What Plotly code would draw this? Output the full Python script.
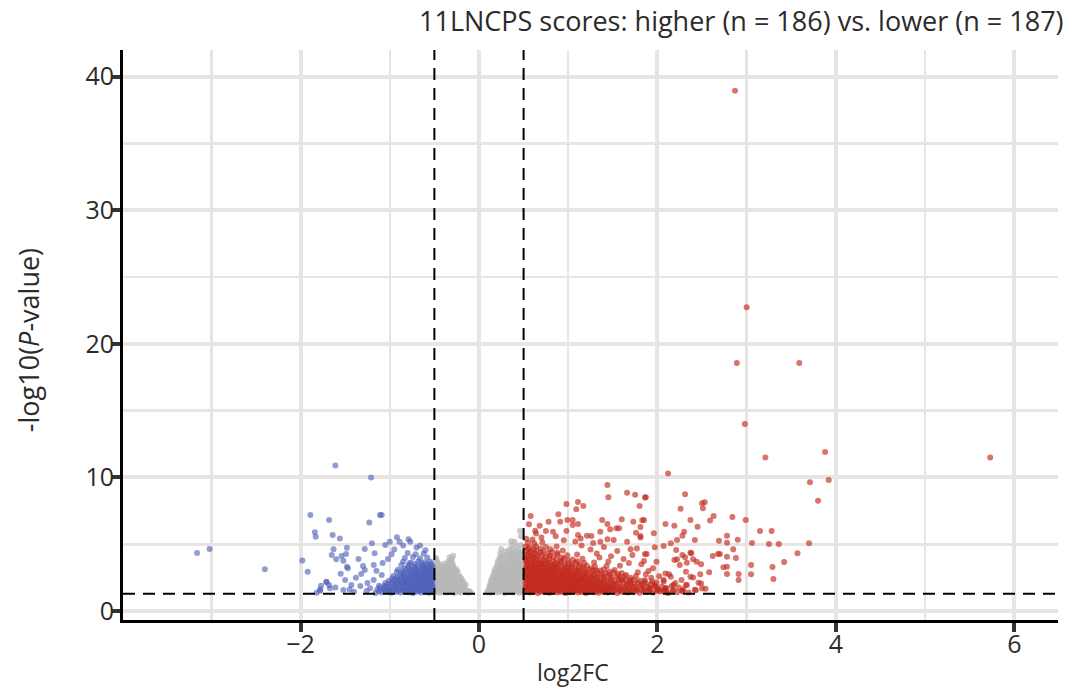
import plotly.graph_objects as go

# ---------------- data (log2FC, -log10 P) ----------------
title_text = "11LNCPS scores: higher (n = 186) vs. lower (n = 187)"
x_ticks = [-2, 0, 2, 4, 6]
x_tick_text = ["\u22122", "0", "2", "4", "6"]
y_ticks = [0, 10, 20, 30, 40]
fc_cut = [-0.5, 0.5]
p_cut = 1.3

red_sparse = [
    (2.87, 38.95), (3.00, 22.75), (2.89, 18.57), (3.59, 18.57), (2.98, 14.0), (3.21, 11.5), (5.73, 11.5),
    (3.88, 11.9), (2.12, 10.3), (3.71, 9.64), (3.92, 9.81), (3.80, 8.26), (3.70, 5.07),
    (2.31, 8.74), (2.50, 8.07), (2.53, 8.14), (2.51, 7.70), (2.26, 7.66), (2.63, 7.12), (2.59, 6.77),
    (2.37, 6.82), (2.84, 7.04), (2.99, 6.82), (2.09, 6.52), (2.19, 6.39), (2.45, 6.32), (1.96, 5.82),
    (2.30, 5.94), (2.28, 5.64), (2.22, 5.32), (2.15, 5.07), (2.07, 4.87), (2.42, 5.32), (2.69, 5.27),
    (2.78, 5.64), (2.78, 5.12), (2.90, 5.34), (3.06, 5.09), (3.15, 5.99), (3.28, 5.99), (3.25, 5.02),
    (3.36, 5.02), (3.57, 4.32), (2.85, 4.62), (2.68, 4.27), (2.70, 4.27), (2.62, 4.12), (2.78, 4.07),
    (2.88, 3.97), (2.37, 4.37), (2.38, 4.32), (2.21, 4.57), (2.28, 4.19), (2.31, 4.02), (2.19, 3.82),
    (2.22, 3.87), (2.25, 3.45), (2.33, 3.62), (2.40, 3.87), (2.44, 3.69), (2.49, 3.50), (2.74, 3.27),
    (2.78, 3.32), (2.78, 2.77), (2.91, 2.77), (2.91, 2.32), (3.05, 3.45), (3.05, 2.75), (3.29, 3.30),
    (3.30, 2.40), (3.42, 3.67), (2.58, 2.90), (2.48, 2.75), (2.49, 2.07), (2.54, 1.67), (2.37, 2.57),
    (2.40, 2.52), (2.32, 2.94), (2.33, 1.95), (2.27, 2.32), (2.18, 1.95), (2.15, 2.57), (2.09, 2.82),
    (2.07, 2.32), (1.99, 3.69), (1.95, 3.20), (1.97, 1.95), (2.01, 1.57), (2.09, 1.70), (2.50, 1.68),
    (2.43, 1.55), (2.28, 1.52), (2.46, 2.11), (2.32, 1.95), (2.13, 2.75), (2.07, 2.22),
    (1.86, 8.50), (1.83, 6.80), (1.81, 6.30), (1.81, 5.50), (1.86, 4.28), (1.85, 3.74), (1.87, 2.75),
    (1.94, 2.22), (1.44, 9.44), (1.45, 8.51), (1.66, 8.86), (1.75, 8.71), (1.87, 8.51), (1.80, 7.87),
    (0.98, 8.01), (1.11, 8.16), (1.09, 7.62), (1.17, 7.87), (0.58, 7.12), (0.89, 7.24), (0.78, 6.69),
    (0.68, 6.39), (0.63, 6.02), (0.83, 5.94), (0.91, 6.69), (0.99, 6.82), (1.05, 6.82), (1.05, 6.44),
    (1.11, 6.52), (0.98, 5.99), (1.11, 5.69), (1.14, 5.44), (1.21, 5.64), (1.38, 6.82), (1.44, 6.52),
    (1.36, 5.94), (1.47, 6.12), (1.54, 6.19), (1.57, 6.19), (1.60, 6.87), (1.73, 6.69), (1.85, 6.82),
    (1.76, 5.87), (1.81, 5.62), (1.26, 5.62), (1.36, 5.19), (1.44, 5.37), (1.51, 5.32), (1.66, 5.19),
    (1.70, 4.62), (1.77, 4.69), (1.88, 4.27), (1.97, 4.77),
    (1.25, 4.60), (1.32, 4.30), (1.40, 4.80), (1.48, 4.10), (1.55, 4.50), (1.62, 3.90), (1.58, 3.40),
    (1.68, 3.60), (1.72, 4.20), (1.82, 3.50), (1.90, 3.00), (1.78, 2.90), (1.65, 2.70), (1.93, 2.50),
    (2.02, 2.60), (1.85, 2.20), (1.70, 2.30), (2.10, 1.45), (2.20, 2.10), (1.15, 4.90), (1.08, 5.20),
    (0.95, 5.30), (0.86, 5.60), (0.70, 5.50), (0.64, 5.80), (0.75, 6.00), (0.56, 6.50), (1.28, 5.10),
    (1.35, 4.00), (1.45, 3.70),
]

red_core = [
    (0.52, 1.42), (0.57, 1.38), (0.61, 1.45), (0.66, 1.36), (0.70, 1.44), (0.75, 1.40), (0.79, 1.37),
    (0.84, 1.46), (0.88, 1.39), (0.93, 1.43), (0.97, 1.36), (1.02, 1.41), (1.06, 1.47), (1.11, 1.38),
    (1.15, 1.43), (1.20, 1.36), (1.25, 1.45), (1.30, 1.40), (1.34, 1.37), (1.39, 1.44), (1.44, 1.39),
    (1.49, 1.46), (1.55, 1.36), (1.61, 1.42), (1.67, 1.38), (1.74, 1.45), (1.80, 1.37), (1.88, 1.43),
    (1.95, 1.39), (2.03, 1.46), (2.12, 1.36), (2.22, 1.41), (2.35, 1.38),
    (0.545, 1.51), (0.59, 1.49), (0.635, 1.53), (0.68, 1.48), (0.725, 1.52), (0.77, 1.50), (0.815, 1.47),
    (0.86, 1.53), (0.905, 1.49), (0.95, 1.52), (0.995, 1.48), (1.04, 1.51), (1.085, 1.54), (1.13, 1.49),
    (1.175, 1.52), (1.225, 1.47), (1.275, 1.53), (1.32, 1.50), (1.365, 1.48), (1.415, 1.52), (1.465, 1.49),
    (1.52, 1.53), (1.58, 1.48), (1.64, 1.51), (1.70, 1.49), (1.77, 1.53), (1.84, 1.48), (1.91, 1.52),
    (1.99, 1.50), (2.07, 1.47), (2.17, 1.52), (2.28, 1.49),
    (0.54, 1.63), (0.59, 1.58), (0.63, 1.66), (0.68, 1.61), (0.72, 1.56), (0.77, 1.65), (0.81, 1.60),
    (0.86, 1.57), (0.90, 1.67), (0.95, 1.62), (0.99, 1.59), (1.04, 1.64), (1.08, 1.57), (1.13, 1.66),
    (1.18, 1.61), (1.22, 1.58), (1.27, 1.65), (1.32, 1.60), (1.37, 1.63), (1.42, 1.57), (1.47, 1.66),
    (1.53, 1.61), (1.58, 1.59), (1.64, 1.65), (1.71, 1.58), (1.77, 1.63), (1.85, 1.60), (1.92, 1.66),
    (2.01, 1.59), (2.08, 1.62), (2.18, 1.57), (2.29, 1.64), (2.42, 1.60),
    (0.52, 1.76), (0.565, 1.72), (0.61, 1.78), (0.655, 1.73), (0.70, 1.77), (0.745, 1.71), (0.79, 1.75),
    (0.835, 1.78), (0.88, 1.72), (0.925, 1.76), (0.97, 1.73), (1.015, 1.77), (1.06, 1.71), (1.105, 1.75),
    (1.15, 1.78), (1.195, 1.72), (1.245, 1.76), (1.295, 1.73), (1.345, 1.77), (1.395, 1.71), (1.445, 1.75),
    (1.50, 1.78), (1.56, 1.72), (1.62, 1.76), (1.69, 1.73), (1.76, 1.77), (1.83, 1.72), (1.91, 1.75),
    (1.99, 1.78), (2.10, 1.73), (2.24, 1.76),
    (0.53, 1.86), (0.58, 1.82), (0.62, 1.90), (0.67, 1.84), (0.71, 1.79), (0.76, 1.88), (0.80, 1.83),
    (0.85, 1.91), (0.89, 1.80), (0.94, 1.87), (0.98, 1.84), (1.03, 1.81), (1.07, 1.89), (1.12, 1.85),
    (1.17, 1.79), (1.21, 1.88), (1.26, 1.83), (1.31, 1.90), (1.36, 1.81), (1.41, 1.86), (1.46, 1.84),
    (1.52, 1.89), (1.59, 1.80), (1.66, 1.87), (1.72, 1.83), (1.81, 1.90), (1.89, 1.81), (1.97, 1.86),
    (2.05, 1.83), (2.16, 1.88),
    (0.545, 2.01), (0.59, 1.97), (0.635, 2.03), (0.68, 1.98), (0.725, 2.02), (0.77, 1.96), (0.815, 2.00),
    (0.86, 2.03), (0.905, 1.97), (0.95, 2.01), (0.995, 1.98), (1.04, 2.02), (1.085, 1.96), (1.13, 2.00),
    (1.18, 2.03), (1.225, 1.97), (1.27, 2.01), (1.32, 1.98), (1.375, 2.02), (1.43, 1.96), (1.50, 2.00),
    (1.57, 2.03), (1.66, 1.97), (1.74, 2.01), (1.83, 1.98), (1.93, 2.02),
    (0.52, 2.12), (0.56, 2.07), (0.61, 2.15), (0.65, 2.09), (0.70, 2.04), (0.74, 2.13), (0.79, 2.08),
    (0.83, 2.16), (0.88, 2.05), (0.92, 2.11), (0.97, 2.14), (1.01, 2.06), (1.06, 2.12), (1.10, 2.09),
    (1.15, 2.15), (1.20, 2.04), (1.24, 2.11), (1.29, 2.08), (1.35, 2.14), (1.40, 2.06), (1.47, 2.12),
    (1.54, 2.09), (1.62, 2.15), (1.70, 2.05), (1.78, 2.11), (1.87, 2.08), (1.99, 2.13),
    (0.53, 2.26), (0.575, 2.22), (0.62, 2.28), (0.665, 2.23), (0.71, 2.27), (0.755, 2.21), (0.80, 2.25),
    (0.845, 2.28), (0.89, 2.22), (0.935, 2.26), (0.98, 2.23), (1.025, 2.27), (1.07, 2.21), (1.115, 2.25),
    (1.16, 2.28), (1.21, 2.22), (1.26, 2.26), (1.31, 2.23), (1.37, 2.27), (1.44, 2.21), (1.52, 2.25),
    (1.60, 2.28), (1.69, 2.22), (1.80, 2.26),
    (0.54, 2.37), (0.58, 2.31), (0.63, 2.39), (0.67, 2.34), (0.72, 2.30), (0.76, 2.38), (0.81, 2.33),
    (0.85, 2.40), (0.90, 2.29), (0.94, 2.36), (0.99, 2.32), (1.03, 2.39), (1.08, 2.34), (1.13, 2.30),
    (1.18, 2.37), (1.23, 2.33), (1.28, 2.40), (1.34, 2.31), (1.41, 2.36), (1.48, 2.33), (1.57, 2.38),
    (1.65, 2.30), (1.74, 2.35), (1.86, 2.32),
    (0.545, 2.51), (0.59, 2.47), (0.635, 2.53), (0.68, 2.48), (0.725, 2.52), (0.77, 2.46), (0.815, 2.50),
    (0.86, 2.53), (0.905, 2.47), (0.95, 2.51), (0.995, 2.48), (1.045, 2.52), (1.095, 2.46), (1.145, 2.50),
    (1.20, 2.53), (1.26, 2.47), (1.33, 2.51), (1.40, 2.48), (1.49, 2.52), (1.59, 2.46), (1.70, 2.50),
    (0.52, 2.62), (0.57, 2.57), (0.61, 2.65), (0.66, 2.59), (0.70, 2.55), (0.75, 2.64), (0.79, 2.58),
    (0.84, 2.66), (0.89, 2.56), (0.93, 2.61), (0.98, 2.63), (1.03, 2.57), (1.08, 2.65), (1.14, 2.59),
    (1.19, 2.55), (1.25, 2.63), (1.32, 2.58), (1.39, 2.64), (1.46, 2.56), (1.55, 2.61), (1.63, 2.59),
    (1.76, 2.63),
    (0.53, 2.76), (0.575, 2.72), (0.62, 2.78), (0.665, 2.73), (0.71, 2.77), (0.755, 2.71), (0.80, 2.75),
    (0.845, 2.78), (0.89, 2.72), (0.94, 2.76), (0.99, 2.73), (1.04, 2.77), (1.095, 2.71), (1.15, 2.75),
    (1.21, 2.78), (1.29, 2.72), (1.37, 2.76), (1.46, 2.73), (1.56, 2.77),
    (0.53, 2.87), (0.58, 2.82), (0.62, 2.90), (0.67, 2.84), (0.71, 2.80), (0.76, 2.89), (0.81, 2.83),
    (0.86, 2.91), (0.91, 2.81), (0.96, 2.86), (1.01, 2.88), (1.07, 2.82), (1.12, 2.90), (1.18, 2.84),
    (1.26, 2.80), (1.33, 2.88), (1.42, 2.83), (1.51, 2.89), (1.60, 2.84),
    (0.545, 3.01), (0.59, 2.97), (0.635, 3.03), (0.68, 2.98), (0.725, 3.02), (0.775, 2.96), (0.825, 3.00),
    (0.875, 3.03), (0.93, 2.97), (0.99, 3.01), (1.05, 2.98), (1.12, 3.02), (1.20, 2.96), (1.28, 3.00),
    (1.36, 3.03), (1.46, 2.97),
    (0.52, 3.12), (0.56, 3.07), (0.61, 3.15), (0.65, 3.09), (0.70, 3.05), (0.75, 3.14), (0.80, 3.08),
    (0.85, 3.16), (0.90, 3.06), (0.96, 3.11), (1.02, 3.13), (1.09, 3.07), (1.16, 3.15), (1.23, 3.09),
    (1.31, 3.05), (1.40, 3.12), (1.52, 3.08),
    (0.53, 3.26), (0.575, 3.22), (0.62, 3.28), (0.665, 3.23), (0.71, 3.27), (0.76, 3.21), (0.81, 3.25),
    (0.87, 3.28), (0.935, 3.22), (1.00, 3.26), (1.08, 3.23), (1.17, 3.27), (1.26, 3.21),
    (0.54, 3.37), (0.59, 3.31), (0.63, 3.39), (0.68, 3.34), (0.73, 3.30), (0.78, 3.38), (0.84, 3.33),
    (0.90, 3.40), (0.97, 3.31), (1.04, 3.36), (1.12, 3.34), (1.21, 3.39), (1.30, 3.32), (1.43, 3.37),
    (0.545, 3.51), (0.59, 3.47), (0.64, 3.53), (0.695, 3.48), (0.75, 3.52), (0.81, 3.46), (0.88, 3.50),
    (0.96, 3.53), (1.04, 3.47), (1.13, 3.51),
    (0.53, 3.62), (0.57, 3.57), (0.62, 3.66), (0.67, 3.59), (0.72, 3.55), (0.78, 3.64), (0.85, 3.58),
    (0.92, 3.65), (1.00, 3.56), (1.08, 3.62), (1.18, 3.59), (1.29, 3.64),
    (0.53, 3.76), (0.585, 3.72), (0.64, 3.78), (0.70, 3.73), (0.76, 3.77), (0.83, 3.71), (0.91, 3.75),
    (1.00, 3.78), (1.10, 3.72),
    (0.52, 3.92), (0.56, 3.86), (0.61, 3.95), (0.66, 3.88), (0.72, 3.84), (0.79, 3.93), (0.87, 3.87),
    (0.95, 3.94), (1.05, 3.85), (1.16, 3.91),
    (0.545, 4.06), (0.60, 4.02), (0.66, 4.08), (0.74, 4.03), (0.83, 4.07), (0.93, 4.01),
    (0.54, 4.22), (0.59, 4.16), (0.65, 4.25), (0.71, 4.18), (0.79, 4.14), (0.88, 4.23), (0.99, 4.17),
    (1.10, 4.24),
    (0.56, 4.36), (0.62, 4.32), (0.69, 4.38), (0.77, 4.33), (0.88, 4.37),
    (0.53, 4.52), (0.58, 4.46), (0.64, 4.55), (0.72, 4.48), (0.82, 4.44), (0.94, 4.53),
    (0.55, 4.66), (0.61, 4.62), (0.69, 4.68), (0.80, 4.63),
    (0.52, 4.83), (0.57, 4.77), (0.64, 4.86), (0.75, 4.79), (0.87, 4.84),
    (0.55, 5.12), (0.62, 5.06), (0.71, 5.15), (0.53, 5.42), (0.60, 5.36),
]

blue_sparse = [
    (-3.16, 4.34), (-3.02, 4.64), (-2.40, 3.12), (-1.89, 7.19), (-1.84, 5.89), (-1.83, 5.57),
    (-1.68, 6.82), (-1.98, 3.79), (-1.92, 2.95), (-1.71, 2.15), (-1.77, 1.90), (-1.78, 1.52),
    (-1.82, 1.37), (-1.68, 1.95), (-1.61, 10.89), (-1.21, 10.0), (-1.11, 7.19), (-1.09, 7.19),
    (-1.23, 6.62), (-1.64, 5.69), (-1.56, 5.44), (-1.20, 5.07), (-1.05, 4.94), (-1.00, 5.19),
    (-0.92, 5.52), (-0.89, 5.19), (-0.79, 5.37), (-0.77, 5.19), (-1.63, 4.62), (-1.48, 4.74),
    (-1.28, 4.64), (-1.17, 4.32), (-1.65, 4.19), (-1.60, 3.87), (-1.54, 4.12), (-1.52, 3.77),
    (-1.49, 4.27), (-1.48, 3.32), (-1.47, 3.20), (-1.30, 3.37), (-1.28, 3.07), (-1.32, 2.77),
    (-1.18, 3.45), (-1.15, 3.02), (-1.09, 2.70), (-1.18, 2.32), (-1.22, 1.70), (-1.50, 2.32),
    (-1.43, 1.95), (-1.45, 1.62), (-1.33, 1.87), (-1.52, 1.57), (-1.71, 2.19), (-1.61, 1.77),
    (-1.67, 1.70), (-1.78, 1.62), (-1.38, 2.50), (-1.25, 2.10), (-1.12, 1.90), (-1.40, 1.45),
    (-1.26, 1.50), (-1.55, 2.80), (-1.35, 3.90), (-0.95, 4.60), (-0.85, 4.90), (-0.70, 4.75),
    (-0.66, 4.90), (-0.60, 4.55), (-0.98, 4.25), (-1.08, 3.60), (-1.02, 3.90),
]

blue_core = [
    (-0.52, 1.42), (-0.56, 1.37), (-0.61, 1.45), (-0.65, 1.39), (-0.70, 1.44), (-0.74, 1.36),
    (-0.79, 1.41), (-0.83, 1.46), (-0.88, 1.38), (-0.93, 1.43), (-0.98, 1.37), (-1.03, 1.45),
    (-1.09, 1.40), (-1.16, 1.36),
    (-0.54, 1.52), (-0.585, 1.49), (-0.63, 1.54), (-0.675, 1.50), (-0.72, 1.53), (-0.765, 1.48),
    (-0.81, 1.52), (-0.855, 1.55), (-0.905, 1.49), (-0.955, 1.53), (-1.005, 1.50), (-1.06, 1.54),
    (-1.12, 1.49),
    (-0.53, 1.66), (-0.57, 1.61), (-0.62, 1.68), (-0.66, 1.59), (-0.71, 1.64), (-0.75, 1.69),
    (-0.80, 1.60), (-0.85, 1.66), (-0.90, 1.62), (-0.95, 1.68), (-1.01, 1.59), (-1.07, 1.65),
    (-1.14, 1.61),
    (-0.52, 1.79), (-0.565, 1.75), (-0.61, 1.81), (-0.655, 1.76), (-0.70, 1.80), (-0.745, 1.74),
    (-0.79, 1.78), (-0.835, 1.81), (-0.885, 1.75), (-0.935, 1.79), (-0.99, 1.76), (-1.05, 1.80),
    (-1.11, 1.76),
    (-0.52, 1.91), (-0.56, 1.86), (-0.60, 1.93), (-0.65, 1.84), (-0.69, 1.89), (-0.74, 1.94),
    (-0.78, 1.85), (-0.83, 1.91), (-0.88, 1.87), (-0.94, 1.93), (-1.00, 1.84), (-1.06, 1.90),
    (-0.535, 2.04), (-0.58, 2.00), (-0.625, 2.06), (-0.67, 2.01), (-0.715, 2.05), (-0.76, 1.99),
    (-0.805, 2.03), (-0.855, 2.06), (-0.905, 2.00), (-0.96, 2.04), (-1.02, 2.01),
    (-0.54, 2.16), (-0.58, 2.11), (-0.63, 2.18), (-0.67, 2.09), (-0.72, 2.14), (-0.76, 2.19),
    (-0.81, 2.10), (-0.86, 2.16), (-0.92, 2.12), (-0.98, 2.18), (-1.05, 2.10),
    (-0.52, 2.29), (-0.565, 2.25), (-0.61, 2.31), (-0.655, 2.26), (-0.70, 2.30), (-0.745, 2.24),
    (-0.79, 2.28), (-0.84, 2.31), (-0.89, 2.25), (-0.95, 2.29), (-1.01, 2.26),
    (-0.52, 2.41), (-0.57, 2.36), (-0.61, 2.43), (-0.66, 2.34), (-0.70, 2.39), (-0.75, 2.44),
    (-0.80, 2.35), (-0.85, 2.41), (-0.91, 2.37), (-0.97, 2.43),
    (-0.535, 2.54), (-0.58, 2.50), (-0.625, 2.56), (-0.67, 2.51), (-0.715, 2.55), (-0.765, 2.49),
    (-0.815, 2.53), (-0.865, 2.56), (-0.92, 2.50),
    (-0.53, 2.66), (-0.58, 2.61), (-0.62, 2.68), (-0.67, 2.59), (-0.72, 2.64), (-0.77, 2.69),
    (-0.83, 2.60), (-0.89, 2.66), (-0.96, 2.62),
    (-0.52, 2.79), (-0.565, 2.75), (-0.61, 2.81), (-0.655, 2.76), (-0.70, 2.80), (-0.75, 2.74),
    (-0.80, 2.78), (-0.86, 2.81),
    (-0.52, 2.91), (-0.56, 2.86), (-0.61, 2.93), (-0.66, 2.84), (-0.71, 2.89), (-0.77, 2.94),
    (-0.84, 2.85), (-0.92, 2.91),
    (-0.535, 3.04), (-0.58, 3.00), (-0.625, 3.06), (-0.675, 3.01), (-0.73, 3.05), (-0.79, 2.99),
    (-0.86, 3.03),
    (-0.54, 3.16), (-0.59, 3.11), (-0.64, 3.18), (-0.70, 3.09), (-0.76, 3.14), (-0.83, 3.19),
    (-0.91, 3.10),
    (-0.52, 3.29), (-0.565, 3.25), (-0.615, 3.31), (-0.67, 3.26), (-0.73, 3.30), (-0.80, 3.24),
    (-0.53, 3.41), (-0.58, 3.36), (-0.64, 3.43), (-0.71, 3.34), (-0.79, 3.39), (-0.87, 3.44),
    (-0.535, 3.56), (-0.585, 3.52), (-0.645, 3.58), (-0.71, 3.53), (-0.78, 3.57),
    (-0.55, 3.71), (-0.61, 3.66), (-0.68, 3.73), (-0.76, 3.64), (-0.85, 3.69),
    (-0.58, 4.01), (-0.66, 3.96), (-0.74, 4.04), (-0.83, 3.98),
    (-0.62, 4.31), (-0.71, 4.26), (-0.80, 4.34),
]

gray_left = [
    (-0.48, 1.41), (-0.44, 1.37), (-0.40, 1.44), (-0.36, 1.39), (-0.32, 1.43), (-0.28, 1.36),
    (-0.24, 1.42), (-0.20, 1.38), (-0.16, 1.45), (-0.12, 1.37), (-0.09, 1.40),
    (-0.46, 1.53), (-0.42, 1.49), (-0.38, 1.54), (-0.34, 1.50), (-0.30, 1.53), (-0.26, 1.48),
    (-0.22, 1.52), (-0.18, 1.49), (-0.14, 1.53), (-0.11, 1.50),
    (-0.47, 1.66), (-0.43, 1.61), (-0.39, 1.68), (-0.35, 1.63), (-0.31, 1.59), (-0.27, 1.67),
    (-0.23, 1.62), (-0.19, 1.65), (-0.15, 1.60),
    (-0.49, 1.78), (-0.45, 1.75), (-0.41, 1.80), (-0.37, 1.76), (-0.33, 1.79), (-0.29, 1.74),
    (-0.25, 1.78), (-0.21, 1.81), (-0.17, 1.76),
    (-0.48, 1.91), (-0.44, 1.86), (-0.40, 1.93), (-0.36, 1.88), (-0.32, 1.84), (-0.28, 1.92),
    (-0.24, 1.87), (-0.20, 1.90), (-0.16, 1.95),
    (-0.46, 2.04), (-0.42, 2.00), (-0.38, 2.06), (-0.34, 2.01), (-0.30, 2.05), (-0.26, 1.99),
    (-0.22, 2.03), (-0.18, 2.06), (-0.15, 1.99),
    (-0.47, 2.16), (-0.43, 2.11), (-0.39, 2.18), (-0.35, 2.13), (-0.31, 2.09), (-0.27, 2.17),
    (-0.23, 2.12), (-0.19, 2.15),
    (-0.49, 2.29), (-0.45, 2.25), (-0.41, 2.31), (-0.37, 2.26), (-0.33, 2.30), (-0.29, 2.24),
    (-0.25, 2.28), (-0.21, 2.31), (-0.18, 2.26),
    (-0.48, 2.41), (-0.44, 2.36), (-0.40, 2.43), (-0.36, 2.38), (-0.32, 2.34), (-0.28, 2.42),
    (-0.24, 2.37), (-0.20, 2.45),
    (-0.46, 2.54), (-0.42, 2.50), (-0.38, 2.56), (-0.34, 2.51), (-0.30, 2.55), (-0.26, 2.49),
    (-0.22, 2.53),
    (-0.47, 2.66), (-0.43, 2.61), (-0.39, 2.68), (-0.35, 2.63), (-0.31, 2.59), (-0.27, 2.67),
    (-0.22, 2.62),
    (-0.49, 2.79), (-0.45, 2.75), (-0.41, 2.81), (-0.37, 2.76), (-0.33, 2.80), (-0.29, 2.74),
    (-0.25, 2.78),
    (-0.48, 2.91), (-0.44, 2.86), (-0.40, 2.93), (-0.36, 2.88), (-0.32, 2.84), (-0.28, 2.92),
    (-0.24, 2.98),
    (-0.46, 3.04), (-0.42, 3.00), (-0.38, 3.06), (-0.34, 3.01), (-0.30, 3.05), (-0.26, 2.99),
    (-0.47, 3.16), (-0.43, 3.11), (-0.38, 3.18), (-0.34, 3.13), (-0.30, 3.09), (-0.26, 3.17),
    (-0.49, 3.29), (-0.45, 3.25), (-0.41, 3.31), (-0.37, 3.26), (-0.33, 3.30), (-0.29, 3.24),
    (-0.48, 3.41), (-0.44, 3.36), (-0.36, 3.43), (-0.32, 3.38), (-0.29, 3.46),
    (-0.46, 3.56), (-0.40, 3.52), (-0.34, 3.58), (-0.31, 3.52),
    (-0.47, 3.71), (-0.35, 3.68), (-0.31, 3.74), (-0.48, 3.84), (-0.32, 3.86),
    (-0.48, 3.98), (-0.33, 4.02), (-0.30, 3.90), (-0.29, 4.14),
]

gray_right = [
    (0.09, 1.41), (0.13, 1.37), (0.17, 1.44), (0.21, 1.39), (0.25, 1.43), (0.29, 1.36), (0.33, 1.42),
    (0.37, 1.38), (0.41, 1.45), (0.45, 1.37), (0.48, 1.40),
    (0.11, 1.53), (0.15, 1.49), (0.19, 1.54), (0.23, 1.50), (0.27, 1.53), (0.31, 1.48), (0.35, 1.52),
    (0.39, 1.49), (0.43, 1.53), (0.47, 1.50),
    (0.11, 1.66), (0.15, 1.61), (0.19, 1.68), (0.23, 1.63), (0.27, 1.59), (0.31, 1.67), (0.35, 1.62),
    (0.39, 1.65), (0.43, 1.60), (0.47, 1.67),
    (0.12, 1.78), (0.17, 1.75), (0.21, 1.80), (0.25, 1.76), (0.29, 1.79), (0.33, 1.74), (0.37, 1.78),
    (0.41, 1.81), (0.45, 1.76), (0.49, 1.79),
    (0.12, 1.91), (0.16, 1.86), (0.20, 1.93), (0.24, 1.88), (0.28, 1.84), (0.32, 1.92), (0.36, 1.87),
    (0.40, 1.90), (0.44, 1.85), (0.48, 1.93),
    (0.14, 2.04), (0.18, 2.00), (0.22, 2.06), (0.26, 2.01), (0.30, 2.05), (0.34, 1.99), (0.38, 2.03),
    (0.42, 2.06), (0.46, 2.00),
    (0.13, 2.16), (0.17, 2.11), (0.21, 2.18), (0.25, 2.13), (0.29, 2.09), (0.33, 2.17), (0.37, 2.12),
    (0.41, 2.15), (0.45, 2.10),
    (0.15, 2.29), (0.19, 2.25), (0.23, 2.31), (0.27, 2.26), (0.31, 2.30), (0.35, 2.24), (0.39, 2.28),
    (0.43, 2.31), (0.47, 2.26),
    (0.14, 2.38), (0.18, 2.36), (0.22, 2.43), (0.26, 2.38), (0.30, 2.34), (0.34, 2.42), (0.38, 2.37),
    (0.42, 2.40), (0.46, 2.35), (0.49, 2.43),
    (0.16, 2.54), (0.20, 2.50), (0.24, 2.56), (0.28, 2.51), (0.32, 2.55), (0.36, 2.49), (0.40, 2.53),
    (0.44, 2.56), (0.48, 2.50),
    (0.16, 2.66), (0.20, 2.61), (0.24, 2.68), (0.28, 2.63), (0.32, 2.59), (0.36, 2.67), (0.40, 2.62),
    (0.44, 2.65), (0.48, 2.60),
    (0.18, 2.79), (0.22, 2.75), (0.26, 2.81), (0.30, 2.76), (0.34, 2.80), (0.38, 2.74), (0.42, 2.78),
    (0.46, 2.81), (0.49, 2.76),
    (0.17, 2.91), (0.21, 2.86), (0.25, 2.93), (0.29, 2.88), (0.33, 2.84), (0.37, 2.92), (0.41, 2.87),
    (0.45, 2.90),
    (0.19, 3.04), (0.23, 3.00), (0.27, 3.06), (0.31, 3.01), (0.35, 3.05), (0.39, 2.99), (0.43, 3.03),
    (0.47, 3.06),
    (0.18, 3.12), (0.22, 3.11), (0.26, 3.18), (0.30, 3.13), (0.34, 3.09), (0.38, 3.17), (0.42, 3.12),
    (0.46, 3.15), (0.49, 3.10),
    (0.21, 3.29), (0.25, 3.25), (0.29, 3.31), (0.33, 3.26), (0.37, 3.30), (0.41, 3.24), (0.45, 3.28),
    (0.49, 3.31),
    (0.20, 3.41), (0.24, 3.36), (0.28, 3.43), (0.32, 3.38), (0.36, 3.34), (0.40, 3.42), (0.44, 3.37),
    (0.48, 3.40),
    (0.22, 3.56), (0.27, 3.52), (0.31, 3.58), (0.35, 3.53), (0.40, 3.57), (0.44, 3.51), (0.48, 3.55),
    (0.21, 3.71), (0.25, 3.66), (0.30, 3.73), (0.35, 3.68), (0.39, 3.64), (0.43, 3.72), (0.47, 3.67),
    (0.24, 3.86), (0.29, 3.82), (0.35, 3.88), (0.39, 3.83), (0.43, 3.87), (0.47, 3.81),
    (0.23, 3.98), (0.27, 4.02), (0.33, 3.96), (0.37, 4.03), (0.41, 3.97), (0.45, 4.01),
    (0.26, 4.16), (0.33, 4.12), (0.38, 4.18), (0.43, 4.13), (0.48, 4.17),
    (0.24, 4.31), (0.31, 4.26), (0.36, 4.34), (0.40, 4.28), (0.46, 4.32),
    (0.30, 4.46), (0.36, 4.42), (0.42, 4.48), (0.47, 4.43),
    (0.25, 4.62), (0.34, 4.58), (0.38, 4.65), (0.44, 4.60),
    (0.37, 4.91), (0.42, 4.88), (0.47, 4.95), (0.36, 5.22), (0.40, 5.18), (0.47, 5.60), (0.46, 6.02),
]

# ---------------- styling ----------------
RED = "rgb(194,42,28)"
BLUE = "rgb(78,96,184)"
GRAY = "rgb(184,184,184)"
GRID = "#E8E4E3"
FONT = "Open Sans"
TXT = "#2b2b2b"


def xs(pts):
    return [p[0] for p in pts]


def ys(pts):
    return [p[1] for p in pts]


fig = go.Figure()
groups = [
    (gray_left + gray_right, GRAY, 0.75),
    (blue_core + blue_sparse, BLUE, 0.62),
    (red_core + red_sparse, RED, 0.65),
]
for pts, col, op in groups:
    fig.add_trace(go.Scatter(
        x=xs(pts), y=ys(pts), mode="markers",
        marker=dict(size=6, color=col, opacity=op, line=dict(width=0)),
        hoverinfo="skip", showlegend=False,
    ))

# threshold lines
for c in fc_cut:
    fig.add_shape(type="line", xref="x", yref="paper", x0=c, x1=c, y0=0, y1=1,
                  line=dict(color="black", width=2, dash="12px,8px"), layer="above")
fig.add_shape(type="line", xref="paper", yref="y", x0=0, x1=1, y0=p_cut, y1=p_cut,
              line=dict(color="black", width=2, dash="12px,8px"), layer="above")

fig.update_layout(
    width=1072, height=696,
    margin=dict(l=123, r=14, t=50, b=76),
    plot_bgcolor="white", paper_bgcolor="white",
    showlegend=False,
    font=dict(family=FONT, color=TXT, size=22),
)

axis_common = dict(
    showgrid=True, gridcolor=GRID, gridwidth=4,
    zeroline=False,
    showline=True, linecolor="black", linewidth=3,
    ticks="outside", ticklen=9, tickwidth=4, tickcolor="#333333",
    tickfont=dict(size=25, family=FONT, color=TXT),
    automargin=False,
)
fig.update_xaxes(
    range=[-3.99, 6.49],
    tickmode="array", tickvals=x_ticks, ticktext=x_tick_text,
    minor=dict(dtick=1, tick0=0, showgrid=True, gridcolor=GRID, gridwidth=2.5),
    ticklabelstandoff=-9,
    **axis_common,
)
fig.update_yaxes(
    range=[-0.67, 42.0],
    tickmode="array", tickvals=y_ticks,
    minor=dict(dtick=5, tick0=0, showgrid=True, gridcolor=GRID, gridwidth=2.5),
    ticklabelstandoff=-8,
    **axis_common,
)

fig.add_annotation(text=title_text, xref="paper", yref="paper", x=1.0086, y=1.0526,
                   xanchor="right", yanchor="middle", showarrow=False,
                   font=dict(size=27, family=FONT, color=TXT))
fig.add_annotation(text="log2FC", xref="paper", yref="paper", x=0.481, y=-0.091,
                   xanchor="center", yanchor="middle", showarrow=False,
                   font=dict(size=23, family=FONT, color=TXT))
fig.add_annotation(text="-log10(<i>P</i>-value)", xref="paper", yref="paper", x=-0.1016, y=0.491,
                   xanchor="center", yanchor="middle", showarrow=False, textangle=-90,
                   font=dict(size=27, family=FONT, color=TXT))

# remove the default 8px page margin so the figure sits at the window's top-left corner
fig.write_html("out.html",
               config={"displayModeBar": False, "staticPlot": True},
               post_script="document.body.style.margin='0';document.body.style.overflow='hidden';")
